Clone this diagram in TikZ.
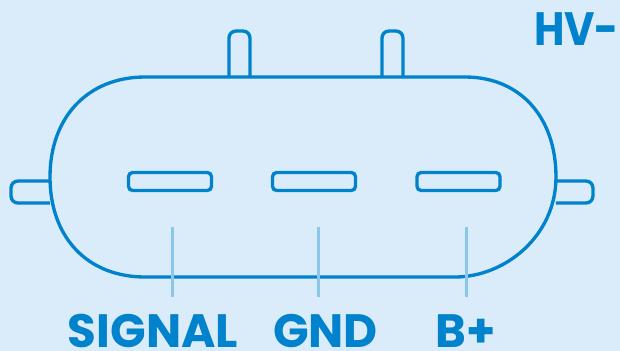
\documentclass[tikz,border=0pt]{standalone}
\usepackage{fontspec}
\setmainfont{Poppins}
\newfontfamily\narrowface[FakeStretch=0.89]{Poppins}
\definecolor{bgblue}{HTML}{DAECF9}
\definecolor{plugblue}{HTML}{0082CC}
\definecolor{leadblue}{HTML}{8CC6EA}
\tikzset{
  outline/.style={draw=plugblue,line width=0.95pt},
  slot/.style={outline,rounded corners=1.2pt,minimum width=0.83cm,minimum height=0.18cm,inner sep=0pt},
  lead/.style={draw=leadblue,line width=0.7pt},
  pinlabel/.style={text=plugblue,font=\bfseries\fontsize{13.3}{13.3}\selectfont,inner sep=0pt,anchor=base}
}
\begin{document}
\begin{tikzpicture}[x=0.01cm,y=-0.01cm]
    \useasboundingbox [fill=bgblue] (0,0) rectangle (620,351);
    % pins behind the body
    \draw [outline] (229,77) -- (229,38) arc (180:270:7) -- (243,31) arc (270:360:7) -- (250,77);
    \draw [outline] (382,77) -- (382,38) arc (180:270:7) -- (396,31) arc (270:360:7) -- (403,77);
    \draw [outline] (50,181) -- (18,181) arc (270:180:7) -- (11,196) arc (180:90:7) -- (50,203);
    \draw [outline] (556,181) -- (586,181) arc (270:360:7) -- (593,196) arc (0:90:7) -- (556,203);
    % body
    \draw [outline] (145,77) -- (465,77) .. controls (520,77) and (556,117) .. (556,177)
      .. controls (556,236) and (505,277) .. (455,277) -- (145,277)
      .. controls (88,277) and (50,238) .. (50,177)
      .. controls (50,117) and (88,77) .. cycle;
    % slots
    \node [slot] (signal) at (170,181.5) {};
    \node [slot] (gnd) at (314,181.5) {};
    \node [slot] (bplus) at (458.5,181.5) {};
    % leads
    \coordinate (signaltop) at (172.5,227);
    \coordinate (signalend) at (172.5,297);
    \coordinate (gndtop) at (318.5,227);
    \coordinate (gndend) at (318.5,297);
    \coordinate (bplustop) at (466.5,227);
    \coordinate (bplusend) at (466.5,297);
    \draw [lead] (signaltop) -- (signalend);
    \draw [lead] (gndtop) -- (gndend);
    \draw [lead] (bplustop) -- (bplusend);
    % labels
    \node [pinlabel] (signallabel) at (153,347) {SIGNAL};
    \node [pinlabel] (gndlabel) at (325.5,347) {GND};
    \node [pinlabel] (bpluslabel) at (465.5,347) {B+};
    \node [pinlabel] (hvlabel) at (576.5,45) {\narrowface\bfseries HV-};
  \end{tikzpicture}
\end{document}
